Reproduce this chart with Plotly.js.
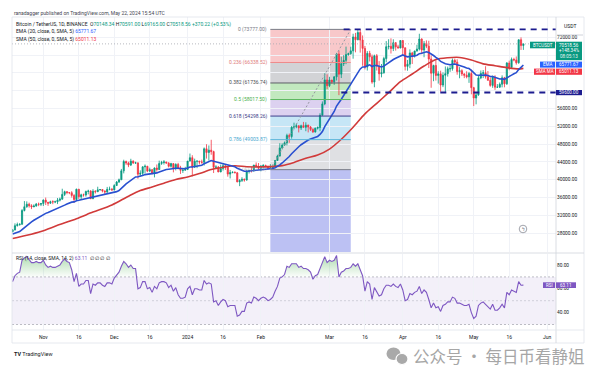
<!DOCTYPE html>
<html><head><meta charset="utf-8">
<script src="https://cdn.plot.ly/plotly-3.0.1.min.js"></script>
<style>html,body{margin:0;padding:0;background:#fff;}#chart{width:600px;height:376px;}</style>
</head><body><div id="chart"></div>
<script>
// ---------------- DATA ----------------
const startDate = '2023-10-19';
const openP = [28328,28719,29669,29909,29992,33069,33922,34496,34151,33892,34082,34525,34474,
34639,35421,34941,34720,35070,35011,35046,35399,35624,36701,37311,37130,37064,36462,35551,37858,36163,36596,36568,37359,37448,35741,37408,37289,37720,37796,37479,37254,37831,37858,
37712,38688,39476,39978,41991,44080,43746,43293,44170,43725,43789,41243,41450,42890,43023,41929,42240,41364,42623,42270,43652,43869,43997,43739,43016,43613,42520,43442,42627,42099,42156,
42283,44179,44946,42845,44151,44162,43974,43929,46951,46110,46632,46314,42782,42847,41732,42511,43137,42776,41262,41618,41665,41545,39507,39845,40077,39933,41816,42120,42031,43300,42941,
42580,43082,43200,43011,42583,42658,43084,44318,45301,47147,47771,48293,49958,49699,51795,51880,52124,51642,52137,51774,52258,51849,51304,50731,51571,51733,54476,57037,62432,
61130,62387,61987,63113,68245,63724,66074,66823,68124,68313,68955,72078,71452,73072,71388,69499,65300,68393,67609,61937,67840,65501,63796,64037,67211,69880,69988,69469,70780,69850,69582,
71280,69649,65463,65963,68487,67820,68896,69360,71620,69146,70631,70006,67116,63924,65661,63419,63793,61277,63470,63818,64940,64941,66819,66414,64289,64498,63770,63461,63118,63866,
60672,58364,59060,62882,63892,64031,63161,62334,61187,63049,60792,60793,61448,62901,61552,66206,65235,67024,66915,66274,71446,70148.34];
const highP = [28929,30190,30360,30200,33390,35198,35130,34840,34480,34460,34770,34860,34720,
35580,35985,34945,35280,35380,35290,35890,35980,37972,37526,37408,37230,37420,36750,37980,37926,36850,36880,37539,37750,37650,37880,37640,38420,37900,37840,37590,38380,38450,38150,
38999,39700,40250,42420,44488,44300,44040,44700,44366,44040,43805,42104,43000,43420,43100,42700,42400,42757,43420,44283,44240,44400,44000,43946,43800,43650,43684,43790,43120,42600,42900,
44185,45879,45500,44729,44340,44230,44500,47248,47972,47695,48969,46515,43257,43080,43400,43578,43198,42930,42196,41870,41880,41689,40129,40555,40289,42225,42200,42842,43305,43882,43745,
43285,43488,43380,43119,43494,43399,44396,45614,48200,48170,48585,50334,50368,52043,52816,52572,52191,52364,52985,52898,52366,52077,51548,51698,51958,54938,57588,63913,63677,
63114,62433,63231,68499,69000,67637,67985,69908,68541,69887,72800,73000,73650,73777,72419,70043,68905,68956,68124,68100,68240,66650,65999,67622,71150,71561,71769,71552,70916,70321,71366,
71288,69674,66914,69291,68725,69000,70326,72797,71758,71172,71305,71227,67931,65840,66867,64365,64499,64117,65450,65419,65695,67233,67199,67075,65297,64820,63923,64370,64228,64734,
60860,59625,63320,64544,64646,65500,64422,62995,63404,63469,61490,61850,63450,63102,66444,66752,67451,67400,67700,71515,71979,70591];
const lowP = [28163,28600,29480,29660,29890,32880,33700,33730,33390,33850,33960,34050,34070,
34100,34310,34120,34580,34500,34730,34520,35120,35530,36330,36733,36750,35980,34800,35360,35672,35500,36180,36200,36700,35632,35630,36900,37250,37550,37150,36700,36870,37600,37500,
37600,38650,39280,39970,41420,43335,42821,43081,43583,43580,40222,40680,40890,41400,41700,41700,41250,40520,41800,42180,43330,43400,43580,42750,42720,41650,42100,42300,41300,41520,41965,
42180,44150,40750,42625,42600,43420,43580,43175,44748,44300,45606,41500,42436,41720,41718,42050,42200,40683,40280,41446,41500,39431,38555,39484,39550,39780,41394,41620,41804,42683,42276,
41884,42546,42880,42222,42258,42574,42788,44213,45242,46800,47630,47710,48300,49225,51314,51566,50625,51166,51716,50900,50625,50940,50521,50585,51280,50901,54450,56738,60364,
60777,61561,61320,62300,59005,62848,65551,65970,67861,68094,67194,68620,71333,68555,65600,64780,64527,66566,61555,60775,64529,62260,63000,63825,66385,69280,68359,68903,69009,69540,69562,
68062,64550,64493,65064,66011,67447,68824,69043,68210,67518,69567,65086,60660,62134,62274,61600,59768,60803,59600,63172,64237,64500,65864,63589,62795,63297,62824,62781,61765,59191,
56552,56937,58848,62584,62822,62700,62261,60888,60648,60187,60631,60650,60750,60760,61300,64603,65106,66600,65857,66060,69162,69165];
const closeP = [28719,29669,29909,29992,33069,33922,34496,34151,33892,34082,34525,34474,34639,
35421,34941,34720,35070,35011,35046,35399,35624,36701,37311,37130,37064,36462,35551,37858,36163,36596,36568,37359,37448,35741,37408,37289,37720,37796,37479,37254,37831,37858,37712,
38688,39476,39978,41991,44080,43746,43293,44170,43725,43789,41243,41450,42890,43023,41929,42240,41364,42623,42270,43652,43869,43997,43739,43016,43613,42520,43442,42627,42099,42156,42283,
44179,44946,42845,44151,44162,43974,43929,46951,46110,46632,46314,42782,42847,41732,42511,43137,42776,41262,41618,41665,41545,39507,39845,40077,39933,41816,42120,42031,43300,42941,42580,
43082,43200,43011,42583,42658,43084,44318,45301,47147,47771,48293,49958,49699,51795,51880,52124,51642,52137,51774,52258,51849,51304,50731,51571,51733,54476,57037,62432,61130,
62387,61987,63113,68245,63724,66074,66823,68124,68313,68955,72078,71452,73072,71388,69499,65300,68393,67609,61937,67840,65501,63796,64037,67211,69880,69988,69469,70780,69850,69582,71280,
69649,65463,65963,68487,67820,68896,69360,71620,69146,70631,70006,67116,63924,65661,63419,63793,61277,63470,63818,64940,64941,66819,66414,64289,64498,63770,63461,63118,63866,60672,
58364,59060,62882,63892,64031,63161,62334,61187,63049,60792,60793,61448,62901,61552,66206,65235,67024,66915,66274,71446,70148,70518.56];
const ema20 = [27797,27975,28159,28333,28784,29273,29770,30187,30540,30877,31224,31533,31829,
32171,32435,32653,32883,33086,33273,33475,33680,33968,34286,34557,34796,34955,35012,35283,35367,35484,35587,35756,35917,35900,36044,36163,36311,36452,36550,36617,36733,36840,36923,
37091,37318,37571,37992,38572,39065,39468,39916,40279,40613,40673,40747,40951,41148,41222,41319,41323,41447,41525,41727,41931,42128,42281,42351,42471,42476,42568,42574,42529,42493,42473,
42635,42855,42854,42977,43090,43174,43246,43599,43838,44104,44314,44168,44042,43822,43697,43644,43561,43342,43178,43034,42892,42570,42311,42098,41892,41885,41907,41919,42050,42135,42177,
42263,42352,42415,42431,42453,42513,42685,42934,43335,43757,44189,44739,45211,45838,46413,46957,47403,47854,48227,48611,48919,49146,49297,49513,49724,50176,50829,51934,52809,
53721,54508,55327,56557,57239,58080,58912,59789,60600,61395,62412,63273,64206,64890,65329,65326,65618,65808,65439,65668,65652,65475,65338,65516,65931,66317,66617,67013,67283,67502,67862,
68032,67787,67613,67696,67708,67821,67968,68316,68395,68608,68741,68586,68142,67906,67479,67128,66571,66276,66042,65937,65842,65935,65981,65820,65694,65511,65316,65107,64989,64578,
63986,63517,63457,63498,63549,63512,63400,63189,63176,62949,62744,62621,62648,62544,62893,63116,63488,63814,64048,64752,65266,65771.67];
const smaDates = ['2023-10-19','2023-10-25','2023-10-31','2023-11-07','2023-11-15','2023-11-22','2023-11-30','2023-12-07','2023-12-12','2023-12-17','2023-12-22','2023-12-27','2024-01-01','2024-01-06','2024-01-11','2024-01-16','2024-01-21','2024-01-26','2024-01-31','2024-02-05','2024-02-10','2024-02-15','2024-02-20','2024-02-25','2024-03-01','2024-03-06','2024-03-11','2024-03-16','2024-03-21','2024-03-26','2024-03-31','2024-04-05','2024-04-10','2024-04-15','2024-04-20','2024-04-25','2024-04-30','2024-05-05','2024-05-10','2024-05-15','2024-05-20','2024-05-22'];
const sma50 = [26789,27505,28358,29741,31248,32718,34318,36286,37547,38365,39213,40035,40625,41374,42282,42792,43138,42900,42871,42933,43157,43863,44795,45537,46888,49090,51799,54790,57156,59563,62030,63745,65540,66998,67395,67472,66883,66034,65619,65178,64897,65011.13];
const rsi = [66,71,73,74,84,86,87,84,82,82,83,82,82,
84,80,78,79,78,78,79,80,83,85,83,82,76,66,73,62,64,64,67,67,56,64,63,65,65,63,62,65,65,64,
69,72,74,79,83,81,78,80,77,77,60,61,66,66,60,61,57,62,60,65,66,66,65,61,63,58,61,55,52,52,53,
60,62,55,60,60,59,59,67,64,65,64,49,50,46,49,51,50,45,46,46,46,37,38,41,41,48,49,48,53,52,50,
52,53,52,50,51,53,58,62,69,70,72,79,78,81,81,81,78,79,77,77,76,74,68,71,72,77,82,87,82,
84,83,84,88,70,74,75,77,77,78,81,79,81,76,71,58,66,64,51,61,57,54,55,60,63,63,62,64,62,61,64,
59,50,51,56,55,57,58,62,56,59,57,51,44,48,44,45,41,46,47,49,49,53,52,48,48,47,46,46,47,40,
35,37,46,48,49,47,45,43,47,42,42,44,47,44,57,55,59,58,57,66,63,63.11];
const xTickVals = ['2023-11-01','2023-11-16','2023-12-01','2023-12-16','2024-01-01','2024-01-16','2024-02-01','2024-03-01','2024-03-16','2024-04-01','2024-04-16','2024-05-01','2024-05-16','2024-06-01'];
const xTickText = ['Nov','16','Dec','16','2024','16','Feb','Mar','16','Apr','16','May','16','Jun'];
const priceTicks = [28000,32000,36000,40000,44000,48000,52000,56000,60000,64000,68000,72000];
const priceTickText = ['28000.00','32000.00','36000.00','40000.00','44000.00','48000.00','52000.00','56000.00','','','','72000.00'];
const rsiTicks = [40,60,80];
const rsiTickText = ['40.00','60.00','80.00'];
const fibPrices = [73777.00,66338.52,61736.74,58017.50,54298.26,49003.87,42257.99,22779.24];
const fibLabels = ['0 (73777.00)','0.236 (66338.52)','0.382 (61736.74)','0.5 (58017.50)','0.618 (54298.26)','0.786 (49003.87)','1 (42257.99)'];
const fibStart = '2024-02-05', fibEnd = '2024-03-10';
const rangeTop = 73777, rangeBottom = 59600;
const lastPrice = 70518.56;

// ---------------- STYLE ----------------
const FONT = 'Roboto, "Liberation Sans", Arial, sans-serif';
const UP = '#089981', DOWN = '#f23645';
const fibZoneColors = ['#f8c8ca','#d2d3d6','#c2e9bf','#dcd1f0','#c6e6f6','#dfe0e3','#bcc1f3'];
const fibLineColors = ['#787b86','#ef8a8a','#5d5f66','#5cb860','#3e3e8c','#58b4da','#787b86'];
const fibTextColors = ['#787b86','#e07b7b','#4a4c52','#4caf50','#3b3b85','#4aa8d0','#9598a1'];
const X0 = '2023-10-18 18:00', X1 = '2024-06-04 19:00';

const L=12, R=556, T=17, B=330;
const pw=R-L, ph=B-T;
const px = x => (x-L)/pw;
const py = y => (B-y)/ph;

const dates = [];
const d0 = Date.parse(startDate + 'T00:00:00Z');
for (let i=0;i<closeP.length;i++) dates.push(new Date(d0+i*86400000).toISOString().slice(0,10));

// ---------------- TRACES ----------------
const traces = [];
traces.push({type:'candlestick', x:dates, open:openP, high:highP, low:lowP, close:closeP,
  xaxis:'x', yaxis:'y', whiskerwidth:0, hoverinfo:'skip', showlegend:false,
  increasing:{line:{color:UP,width:0.8}, fillcolor:UP},
  decreasing:{line:{color:DOWN,width:0.8}, fillcolor:DOWN}});
traces.push({type:'scatter', mode:'lines', x:smaDates, y:sma50, xaxis:'x', yaxis:'y',
  line:{color:'#d13a3a', width:1.6, shape:'spline', smoothing:0.8}, hoverinfo:'skip', showlegend:false});
traces.push({type:'scatter', mode:'lines', x:dates, y:ema20, xaxis:'x', yaxis:'y',
  line:{color:'#2950d0', width:1.6}, hoverinfo:'skip', showlegend:false});
// RSI overbought fill
traces.push({type:'scatter', mode:'lines', x:dates, y:dates.map(()=>70), xaxis:'x', yaxis:'y2',
  line:{width:0, color:'rgba(0,0,0,0)'}, hoverinfo:'skip', showlegend:false});
traces.push({type:'scatter', mode:'lines', x:dates, y:rsi.map(v=>Math.max(v,70)), xaxis:'x', yaxis:'y2',
  fill:'tonexty', fillcolor:'rgba(76,175,80,0.25)',
  fillgradient:{type:'vertical', colorscale:[[0,'rgba(76,175,80,0.02)'],[1,'rgba(76,175,80,0.45)']]},
  line:{width:0, color:'rgba(0,0,0,0)'}, hoverinfo:'skip', showlegend:false});
traces.push({type:'scatter', mode:'lines', x:dates, y:rsi, xaxis:'x', yaxis:'y2',
  line:{color:'#7e57c2', width:1.1}, hoverinfo:'skip', showlegend:false});

// ---------------- SHAPES ----------------
const shapes = [];
for (let i=0;i<fibZoneColors.length;i++){
  shapes.push({type:'rect', xref:'x', yref:'y', x0:fibStart, x1:fibEnd, y0:fibPrices[i+1], y1:fibPrices[i],
    fillcolor:fibZoneColors[i], line:{width:0}, layer:'below'});
}
for (let i=0;i<fibLineColors.length;i++){
  shapes.push({type:'line', xref:'x', yref:'y', x0:fibStart, x1:fibEnd, y0:fibPrices[i], y1:fibPrices[i],
    line:{color:fibLineColors[i], width:1}, layer:'above'});
}
shapes.push({type:'line', xref:'x', yref:'y', x0:fibStart, y0:fibPrices[6], x1:fibEnd, y1:fibPrices[0],
  line:{color:'#9598a1', width:1, dash:'2px,2px'}, layer:'above'});
shapes.push({type:'line', xref:'x', yref:'y', x0:X0, x1:X1, y0:lastPrice, y1:lastPrice,
  line:{color:'#a3a6ae', width:0.8, dash:'1px,2px'}, layer:'above'});
shapes.push({type:'line', xref:'x', yref:'y', x0:'2024-03-07', x1:X1, y0:rangeTop, y1:rangeTop,
  line:{color:'#1c1c8f', width:1.8, dash:'6px,5px'}, layer:'above'});
shapes.push({type:'line', xref:'x', yref:'y', x0:'2024-03-06', x1:X1, y0:rangeBottom, y1:rangeBottom,
  line:{color:'#1c1c8f', width:1.8, dash:'6px,5px'}, layer:'above'});
// RSI band
shapes.push({type:'rect', xref:'x', yref:'y2', x0:X0, x1:X1, y0:30, y1:70, fillcolor:'rgba(126,87,194,0.09)', line:{width:0}, layer:'below'});
[70,50,30].forEach(v=>shapes.push({type:'line', xref:'x', yref:'y2', x0:X0, x1:X1, y0:v, y1:v,
  line:{color: v===50?'rgba(120,123,134,0.35)':'rgba(120,123,134,0.6)', width:0.8, dash:'2px,2px'}, layer:'below'}));
// frame lines
function lineP(x0,y0,x1,y1,color,w){ shapes.push({type:'line', xref:'paper', yref:'paper', x0:px(x0), x1:px(x1), y0:py(y0), y1:py(y1), line:{color:color, width:w||0.8}, layer:'above'}); }
function rectP(x0,y0,x1,y1,fill){ shapes.push({type:'rect', xref:'paper', yref:'paper', x0:px(x0), x1:px(x1), y0:py(y1), y1:py(y0), fillcolor:fill, line:{width:0}, layer:'above'}); }
lineP(12,17,584,17,'#e0e3eb');
lineP(12,343,584,343,'#e0e3eb');
lineP(12,17,12,343,'#e0e3eb');
lineP(584,17,584,343,'#e0e3eb');
lineP(556,17,556,343,'#d1d4dc');
lineP(12,253,584,253,'#d1d4dc');
lineP(12,330,584,330,'#e0e3eb');
lineP(557,35,583,35,'#c3c6d0');
// tags
rectP(530,41.7,555,48.3,UP);
rectP(556,41.7,582,60.2,UP);
rectP(540,61.6,555,67.6,'#2962ff');
rectP(556,61.6,582,67.6,'#2962ff');
rectP(534,68.6,555,74.8,'#f23645');
rectP(556,68.6,582,74.8,'#f23645');
rectP(556,90,582,95.2,'#1c1c8f');
rectP(543,282.3,555,288,'#7e57c2');
rectP(556,282.3,576,288,'#7e57c2');
// lightning icon
shapes.push({type:'circle', xref:'paper', yref:'paper', x0:px(519.2), x1:px(526.8), y0:py(232.8), y1:py(225.2), line:{color:'#787b86', width:0.7}, layer:'above'});
// wechat icon
shapes.push({type:'circle', xref:'paper', yref:'paper', x0:px(386.5), x1:px(400.5), y0:py(360), y1:py(347.5), fillcolor:'#a9a9a9', line:{width:0}, layer:'above'});
shapes.push({type:'circle', xref:'paper', yref:'paper', x0:px(396), x1:px(408), y0:py(364.5), y1:py(353.5), fillcolor:'#a9a9a9', line:{color:'#ffffff', width:1.2}, layer:'above'});

// ---------------- ANNOTATIONS ----------------
const annotations = [];
function txt(x,y,text,size,color,anchor,extra){
  annotations.push(Object.assign({xref:'paper', yref:'paper', x:px(x), y:py(y), text:text, showarrow:false,
    xanchor:anchor||'left', yanchor:'middle', borderpad:0, font:{family:FONT, size:size, color:color}}, extra||{}));
}
const G = s => '<span style="color:'+UP+'">'+s+'</span>';
txt(13,13,'ranadagger published on TradingView.com, May 22, 2024 15:54 UTC',5,'#434651');
txt(15,24.5,'Bitcoin / TetherUS, 1D, BINANCE  O'+G('70148.34')+' H'+G('70591.00')+' L'+G('69165.00')+' C'+G('70518.56')+' '+G('+370.22 (+0.53%)'),5,'#131722');
txt(15,31.8,'EMA (20, close, 0, SMA, 5) <span style="color:#2962ff">65771.67</span>',5,'#131722');
txt(15,39,'SMA (50, close, 0, SMA, 5) <span style="color:#f23645">65011.13</span>',5,'#131722');
txt(15,258.5,'RSI (14, close, SMA, 14, 2) <span style="color:#7e57c2">63.11</span>  ∅ ∅ ∅ ∅',5,'#131722');
txt(569.5,26,'USDT',5,'#131722','center');
txt(542.5,45,'BTCUSDT',4.5,'#ffffff','center');
txt(569,45,'70518.56',4.6,'#ffffff','center');
txt(569,50.8,'+148.34%',4.6,'#ffffff','center');
txt(569,56.6,'08:05:13',4.6,'#e6f5f2','center');
txt(547.5,64.6,'EMA',4.5,'#ffffff','center');
txt(569,64.6,'65771.67',4.6,'#ffffff','center');
txt(544.5,71.7,'SMA MA',4.5,'#ffffff','center');
txt(569,71.7,'65011.13',4.6,'#ffffff','center');
txt(569,92.6,'59600.00',4.6,'#ffffff','center');
txt(549,285.2,'RSI',4.5,'#ffffff','center');
txt(566,285.2,'63.11',4.6,'#ffffff','center');
txt(523,229,'ϟ',5,'#787b86','center');
txt(13,354,'<b>TV</b> TradingView',5.5,'#131722');
txt(412,356,'公众号\u2009·\u2009每日币看静姐',16.5,'#a3a3a3','left',{font:{family:'"Noto Sans CJK SC", sans-serif', size:16.5, color:'#a6a6a6'}});
for (let i=0;i<fibLabels.length;i++){
  annotations.push({xref:'x', yref:'y', x:fibStart, y:fibPrices[i], xanchor:'right', yanchor:'middle', xshift:-2,
    text:fibLabels[i], showarrow:false, borderpad:0, opacity: i===6?0.55:1,
    font:{family:FONT, size:5, color:fibTextColors[i]}});
}

// ---------------- LAYOUT ----------------
const layout = {
  width:600, height:376, margin:{l:L, r:600-R, t:T, b:376-B, pad:0},
  paper_bgcolor:'#ffffff', plot_bgcolor:'#ffffff', showlegend:false, dragmode:false,
  font:{family:FONT, size:5, color:'#131722'},
  xaxis:{type:'date', range:[X0,X1], anchor:'y2', tickmode:'array', tickvals:xTickVals, ticktext:xTickText,
    showgrid:true, gridcolor:'#f0f2f7', gridwidth:1, zeroline:false, showline:false, ticks:'',
    ticklabelstandoff:3,
    tickfont:{family:FONT, size:5, color:'#131722'}, rangeslider:{visible:false}, automargin:false},
  yaxis:{domain:[py(252),1], range:[23753,76562], side:'right', anchor:'x', tickmode:'array',
    tickvals:priceTicks, ticktext:priceTickText, showgrid:true, gridcolor:'#f0f2f7', zeroline:false,
    showline:false, ticks:'', tickfont:{family:FONT, size:4.8, color:'#131722'}, automargin:false},
  yaxis2:{domain:[0,py(254)], range:[25.38,89.24], side:'right', anchor:'x', tickmode:'array',
    tickvals:rsiTicks, ticktext:rsiTickText, showgrid:false, zeroline:false, showline:false, ticks:'',
    tickfont:{family:FONT, size:4.8, color:'#131722'}, automargin:false},
  shapes:shapes, annotations:annotations
};
Plotly.newPlot('chart', traces, layout, {staticPlot:true, displayModeBar:false});
</script>
</body></html>
